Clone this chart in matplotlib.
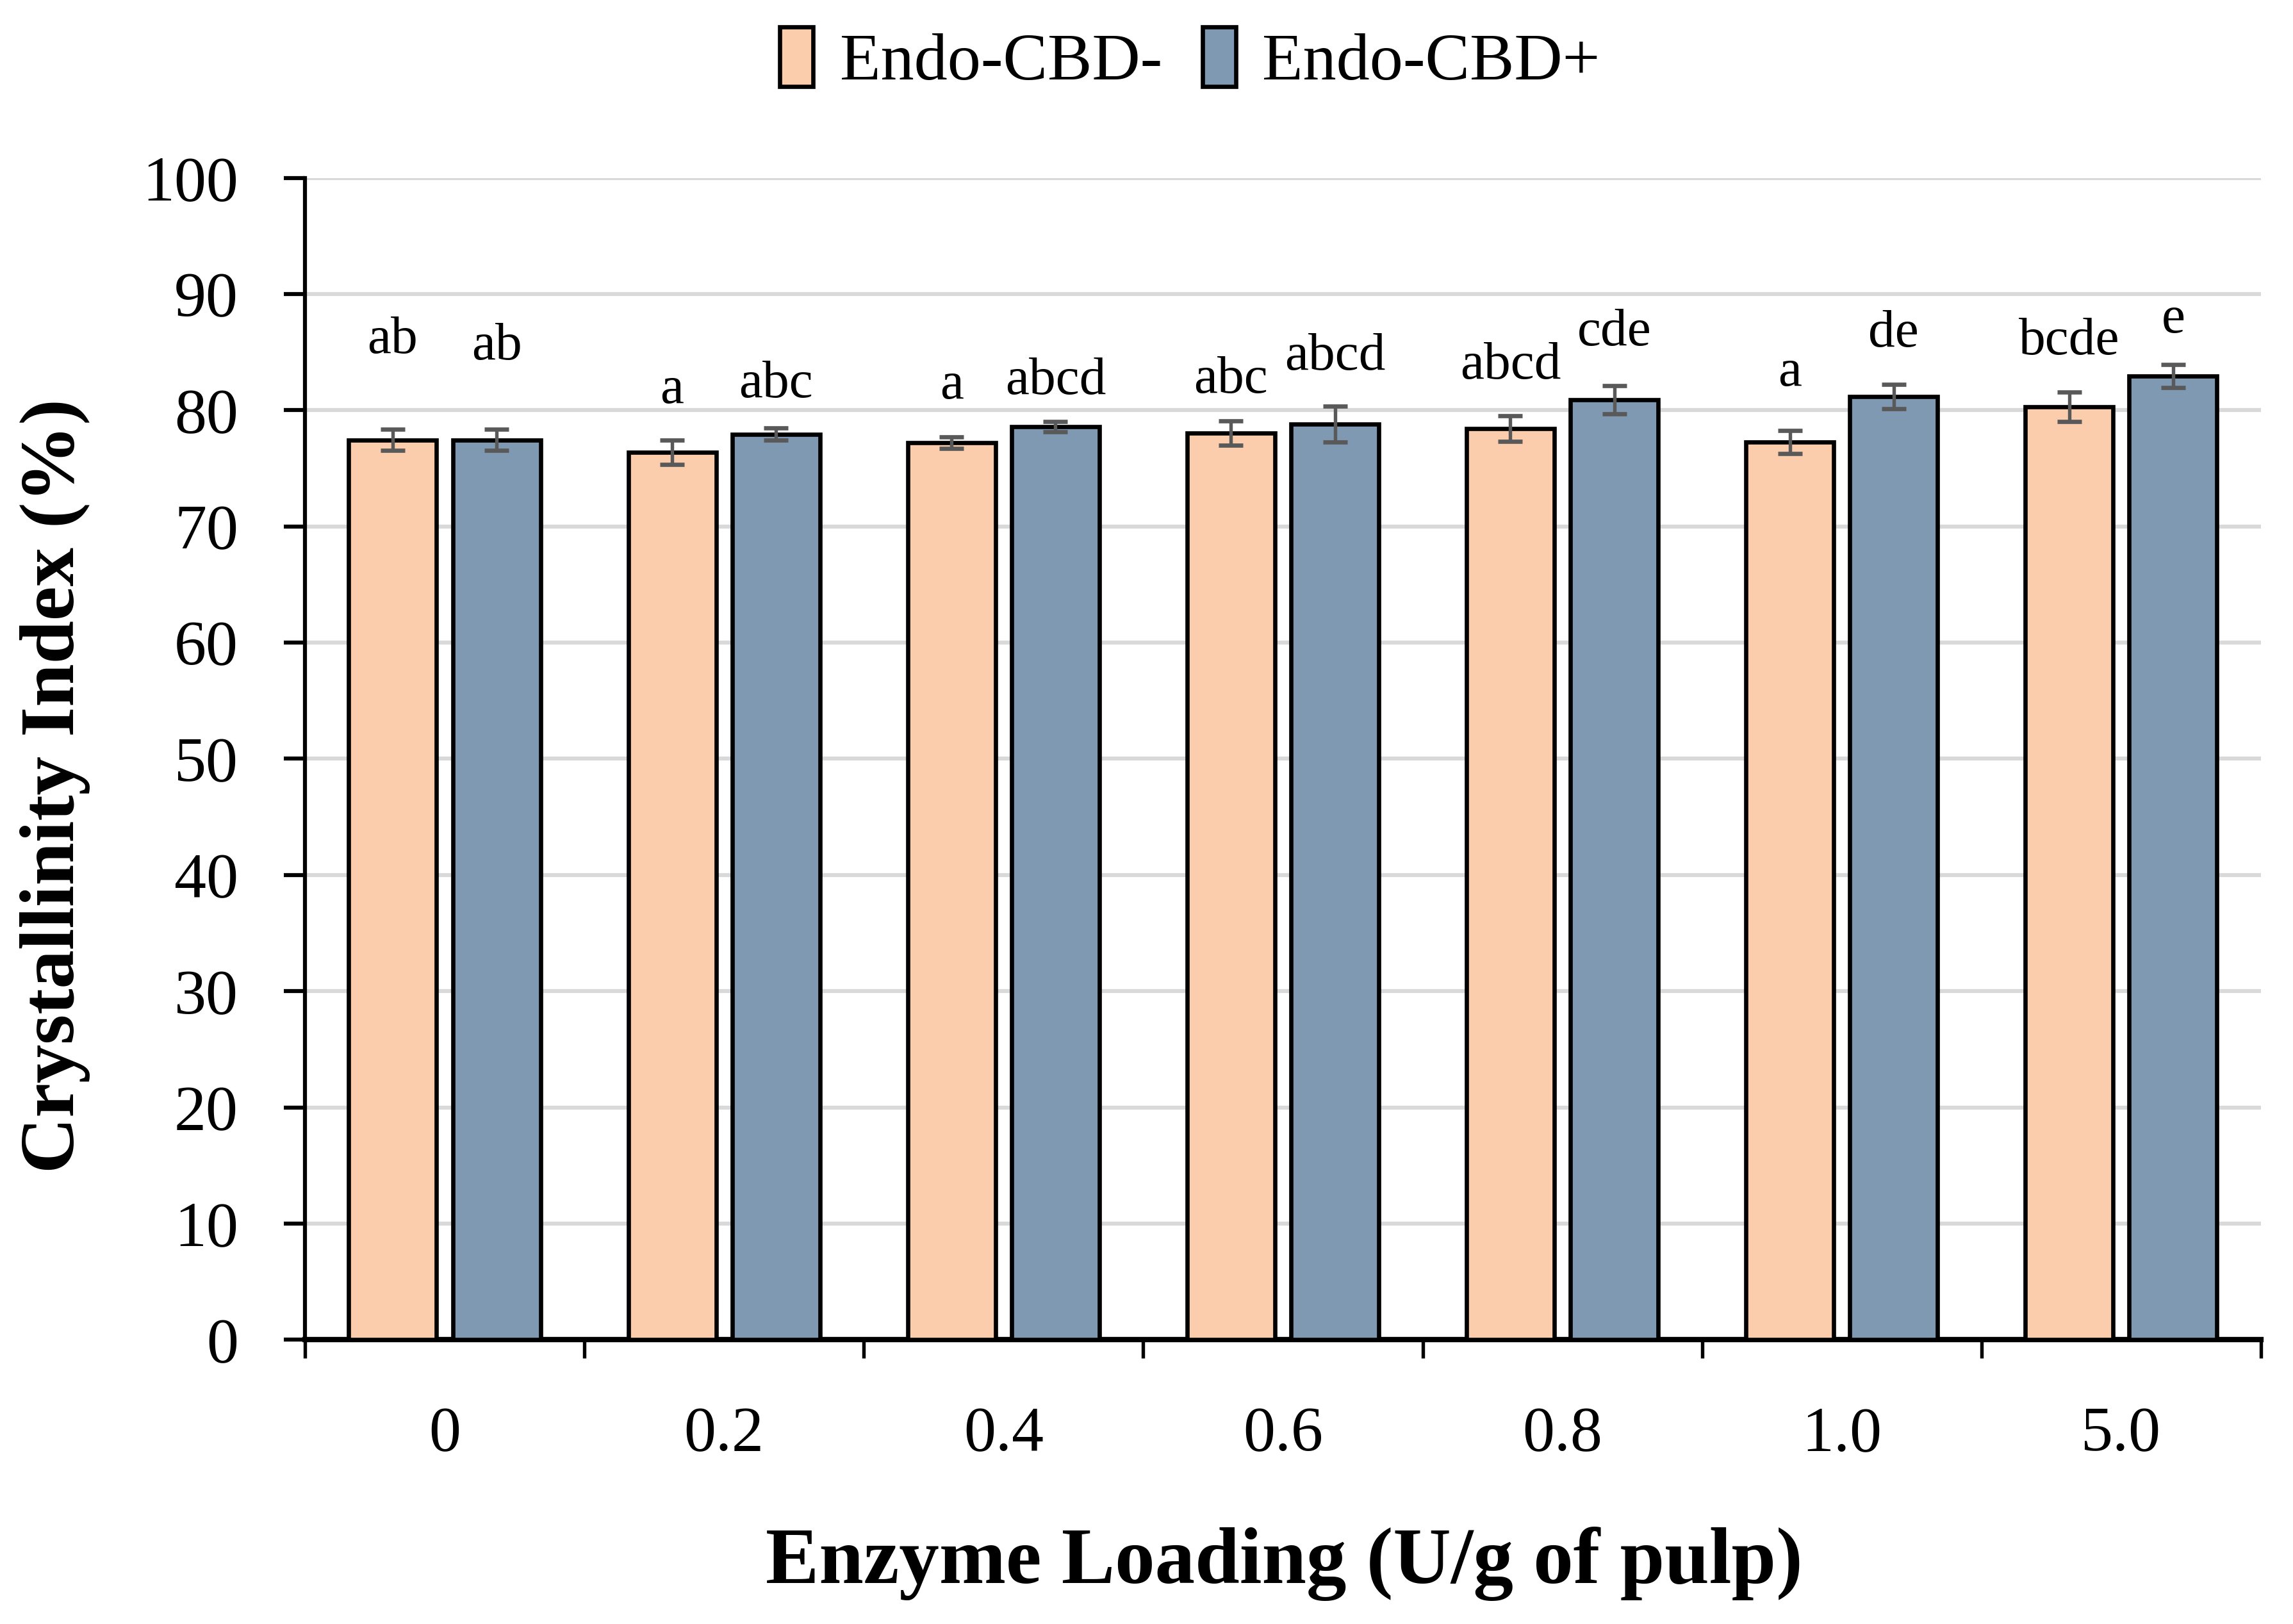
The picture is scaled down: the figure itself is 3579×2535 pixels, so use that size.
import numpy as np
import matplotlib
matplotlib.use("Agg")
import matplotlib.pyplot as plt
from matplotlib.ticker import FixedLocator, MultipleLocator

# ====================== DATA ======================
loadings = ["0", "0.2", "0.4", "0.6", "0.8", "1.0", "5.0"]
series_names = ["Endo-CBD-", "Endo-CBD+"]

ci_minus = [77.45, 76.4, 77.2, 78.05, 78.4, 77.25, 80.3]
ci_minus_err = [0.9, 1.05, 0.5, 1.05, 1.1, 1.0, 1.25]
ci_plus = [77.45, 77.95, 78.6, 78.8, 80.9, 81.2, 82.95]
ci_plus_err = [0.9, 0.55, 0.45, 1.55, 1.2, 1.05, 1.0]

letters_minus = ["ab", "a", "a", "abc", "abcd", "a", "bcde"]
letters_plus = ["ab", "abc", "abcd", "abcd", "cde", "de", "e"]
# baseline height of the letter labels
letters_minus_y = [84.9, 80.6, 81.0, 81.5, 82.7, 82.1, 84.8]
letters_plus_y = [84.4, 81.1, 81.4, 83.5, 85.6, 85.5, 86.7]

# ====================== STYLE ======================
plt.rcParams["font.family"] = ["Liberation Serif", "DejaVu Serif"]
color_minus = "#FCCDAD"
color_plus = "#7F99B2"
err_color = "#595959"

fig = plt.figure(figsize=(11.93, 8.45), dpi=300)
ax = fig.add_axes([0.133, 0.175, 0.853, 0.7155])

x = np.arange(len(loadings))
bar_w = 0.314
offset = (bar_w + 0.058) / 2

# ====================== BARS ======================
bars_minus = ax.bar(x - offset, ci_minus, bar_w, color=color_minus,
                    edgecolor="black", linewidth=1.6, zorder=3,
                    label=series_names[0])
bars_plus = ax.bar(x + offset, ci_plus, bar_w, color=color_plus,
                   edgecolor="black", linewidth=1.6, zorder=3,
                   label=series_names[1])

# error bars
ax.errorbar(x - offset, ci_minus, yerr=ci_minus_err, fmt="none",
            ecolor=err_color, elinewidth=1.3, capsize=4.5, capthick=1.6,
            zorder=4)
ax.errorbar(x + offset, ci_plus, yerr=ci_plus_err, fmt="none",
            ecolor=err_color, elinewidth=1.3, capsize=4.5, capthick=1.6,
            zorder=4)

# letter labels
for i in range(len(loadings)):
    ax.text(x[i] - offset, letters_minus_y[i], letters_minus[i],
            ha="center", va="baseline", fontsize=20, zorder=5)
    ax.text(x[i] + offset, letters_plus_y[i], letters_plus[i],
            ha="center", va="baseline", fontsize=20, zorder=5)

# ====================== AXES ======================
ax.set_xlim(-0.5, len(loadings) - 0.5)
ax.set_ylim(0, 100)
ax.yaxis.set_major_locator(MultipleLocator(10))
ax.grid(axis="y", color="#D9D9D9", linewidth=1.5, zorder=0)
ax.set_axisbelow(True)

# labels sit at group centres, tick marks at group boundaries
ax.set_xticks(x)
ax.set_xticklabels(loadings)
ax.xaxis.set_minor_locator(FixedLocator(np.arange(-0.5, len(loadings), 1.0)))
ax.tick_params(axis="x", which="major", length=0, pad=25, labelsize=24)
ax.tick_params(axis="x", which="minor", length=7, width=1.3, direction="out")
ax.tick_params(axis="y", which="major", length=8, width=1.5, pad=17,
               labelsize=24, direction="out")

for side in ["top", "right"]:
    ax.spines[side].set_visible(False)
ax.spines["left"].set_linewidth(1.5)
ax.spines["bottom"].set_linewidth(2.0)

fig.text(0.56, 0.037, "Enzyme Loading (U/g of pulp)", ha="center",
         va="center", fontsize=30, fontweight="bold")
fig.text(0.024, 0.516, "Crystallinity Index (%)", ha="center",
         va="center", rotation=90, fontsize=29, fontweight="bold")

# ====================== LEGEND ======================
fig.legend(handles=[bars_minus, bars_plus], loc="center",
           bbox_to_anchor=(0.519, 0.963), ncol=2, frameon=False,
           fontsize=25, handlelength=0.5, handleheight=1.0,
           handletextpad=0.4, columnspacing=0.6)

fig.savefig("out.png", dpi=300)
plt.close(fig)
